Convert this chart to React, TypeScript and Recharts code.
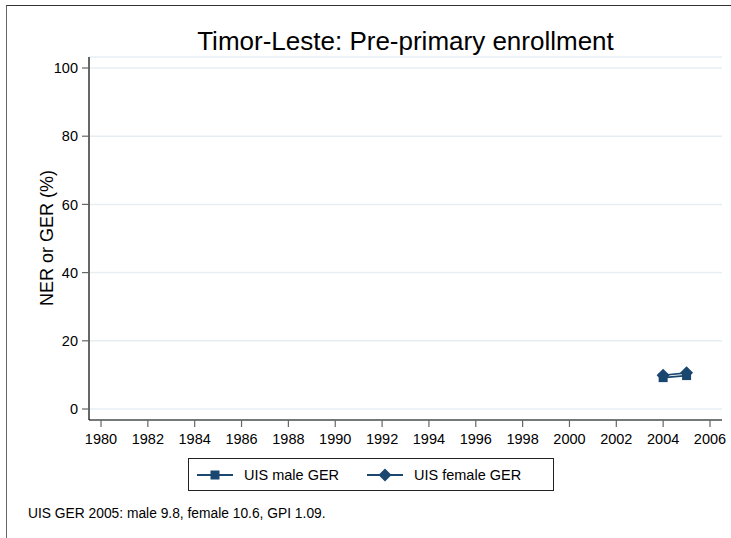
import React from "react";
import { CartesianGrid, Legend, Line, LineChart, XAxis, YAxis } from "recharts";

const years = [2004, 2005];
const maleGer = [9.2, 9.8];
const femaleGer = [9.9, 10.6];

const xTicks = [1980, 1982, 1984, 1986, 1988, 1990, 1992, 1994, 1996, 1998, 2000, 2002, 2004, 2006];
const yTicks = [0, 20, 40, 60, 80, 100];

const seriesNames = { male: "UIS male GER", female: "UIS female GER" } as const;

const titleText = "Timor-Leste: Pre-primary enrollment";
const yLabelText = "NER or GER (%)";
const noteText = "UIS GER 2005: male 9.8, female 10.6, GPI 1.09.";

const navy = "#1a476f";
const font = '"Liberation Sans", Arial, Helvetica, sans-serif';

const SQUARE = 9;
const DIAMOND = 6.5;

const data = years.map((year, i) => ({ year, male: maleGer[i], female: femaleGer[i] }));

function SquareDot(props: any) {
  const { cx, cy } = props;
  if (cx == null || cy == null) return null;
  return <rect x={cx - SQUARE / 2} y={cy - SQUARE / 2} width={SQUARE} height={SQUARE} fill={navy} />;
}

function DiamondDot(props: any) {
  const { cx, cy } = props;
  if (cx == null || cy == null) return null;
  const h = DIAMOND;
  return <polygon points={`${cx},${cy - h} ${cx + h},${cy} ${cx},${cy + h} ${cx - h},${cy}`} fill={navy} />;
}

function LegendBox() {
  const item = (left: number, kind: "square" | "diamond", label: string) => (
    <div style={{ position: "absolute", left, top: 0, height: 31, display: "flex", alignItems: "center" }}>
      <svg width={36} height={16} style={{ display: "block" }}>
        <line x1={0} y1={8} x2={36} y2={8} stroke={navy} strokeWidth={2} />
        {kind === "square" ? <SquareDot cx={18} cy={8} /> : <DiamondDot cx={18} cy={8} />}
      </svg>
      <span style={{ marginLeft: 11, fontSize: 14.5, color: "#000", whiteSpace: "nowrap" }}>{label}</span>
    </div>
  );
  return (
    <div
      style={{
        position: "relative",
        width: 366,
        height: 33,
        boxSizing: "border-box",
        border: "1px solid #222",
        background: "#fff",
        fontFamily: font
      }}
    >
      {item(8, "square", seriesNames.male)}
      {item(178, "diamond", seriesNames.female)}
    </div>
  );
}

export default function App() {
  return (
    <div style={{ position: "absolute", left: 0, top: 0, width: 731, height: 538, background: "#fff", fontFamily: font }}>
      <div
        style={{
          position: "absolute",
          left: 6,
          top: 5,
          width: 740,
          height: 560,
          borderLeft: "1px solid #666",
          borderTop: "1px solid #333"
        }}
      />
      <LineChart
        width={731}
        height={538}
        data={data}
        margin={{ top: 57, right: 9, bottom: 88, left: 0 }}
        style={{ position: "absolute", left: 0, top: 0, fontFamily: font }}
      >
        <CartesianGrid vertical={false} stroke="#e6eef2" strokeWidth={1.5} />
        <XAxis
          dataKey="year"
          type="number"
          domain={[1980, 2006]}
          ticks={xTicks}
          padding={{ left: 12, right: 12 }}
          height={30}
          axisLine={{ stroke: "#000", strokeWidth: 1.2 }}
          tickLine={{ stroke: "#666", strokeWidth: 1.2 }}
          tickSize={7}
          tickMargin={7}
          tick={{ fill: "#000", fontSize: 14.5 }}
          interval={0}
          allowDecimals={false}
        />
        <YAxis
          type="number"
          domain={[0, 100]}
          ticks={yTicks}
          padding={{ top: 11, bottom: 11 }}
          width={89}
          axisLine={{ stroke: "#000", strokeWidth: 1.2 }}
          tickLine={{ stroke: "#666", strokeWidth: 1.2 }}
          tickSize={7}
          tickMargin={4}
          tick={{ fill: "#000", fontSize: 14.5 }}
          interval={0}
        />
        <Line
          name={seriesNames.male}
          dataKey="male"
          stroke={navy}
          strokeWidth={1.6}
          dot={<SquareDot />}
          activeDot={false}
          isAnimationActive={false}
        />
        <Line
          name={seriesNames.female}
          dataKey="female"
          stroke={navy}
          strokeWidth={1.6}
          dot={<DiamondDot />}
          activeDot={false}
          isAnimationActive={false}
        />
        <Legend
          layout="horizontal"
          verticalAlign="middle"
          align="center"
          content={() => <LegendBox />}
          wrapperStyle={{ left: 188, top: 458, width: 366, height: 33 }}
        />
        <text x={405.5} y={50} textAnchor="middle" fontSize={26} fill="#000" fontFamily={font}>
          {titleText}
        </text>
        <text
          x={0}
          y={0}
          transform="translate(53, 238) rotate(-90)"
          textAnchor="middle"
          fontSize={18}
          fill="#000"
          fontFamily={font}
        >
          {yLabelText}
        </text>
        <text x={28} y={518} fontSize={13.8} fill="#000" fontFamily={font}>
          {noteText}
        </text>
      </LineChart>
    </div>
  );
}
